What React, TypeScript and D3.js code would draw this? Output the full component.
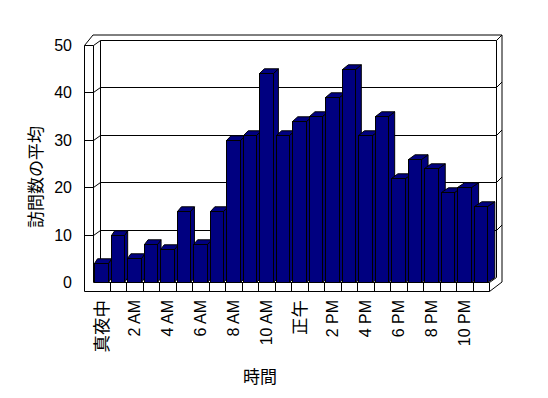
import React from "react";
import * as d3 from "d3";

const categories = [
  "真夜中", "1 AM", "2 AM", "3 AM", "4 AM", "5 AM", "6 AM", "7 AM", "8 AM", "9 AM", "10 AM", "11 AM",
  "正午", "1 PM", "2 PM", "3 PM", "4 PM", "5 PM", "6 PM", "7 PM", "8 PM", "9 PM", "10 PM", "11 PM",
];
const visits = [4, 10, 5, 8, 7, 15, 8, 15, 30, 31, 44, 31, 34, 35, 39, 45, 31, 35, 22, 26, 24, 19, 20, 16];
const yTicks = [0, 10, 20, 30, 40, 50];
const yTitle = "訪問数の平均";
const xTitle = "時間";

const W = 548;
const H = 398;
const X0 = 93.5; // inner front-left of plot
const X1 = 489.5; // front-right of plot
const WALL_L = 84.5; // outer left of wall front face
const FLOOR_T = 282.5;
const FLOOR_B = 291.5;
const DX = 7; // depth offset inner
const DY = 5;
const TX = 5.5; // wall thickness offsets
const TY = 5.5;
const FONT = "'Liberation Sans', 'Noto Sans CJK JP', sans-serif";
const NAVY = "#000080";

const r = (v: number) => Math.round(v - 0.5) + 0.5;
const isCJK = (s: string) => /[\u3000-\u9fff]/.test(s);

export default function App() {
  const x = d3.scaleBand<string>().domain(categories).range([X0, X1]).padding(0);
  const y = d3.scaleLinear().domain([0, 50]).range([FLOOR_T, 45.5]);
  const bw = x.bandwidth();
  const yTop = y(50);

  const pts = (a: [number, number][]) => a.map((p) => `${p[0]},${p[1]}`).join(" ");

  const outer: [number, number][] = [
    [WALL_L, FLOOR_B],
    [WALL_L, yTop],
    [93, yTop - DY - TY],
    [X1 + DX + TX, yTop - DY - TY],
    [X1 + DX + TX, FLOOR_B - DY - TY + 1],
    [X1, FLOOR_B],
  ];

  const lineProps = { stroke: "#000", strokeWidth: 1, fill: "none" };

  return (
    <svg
      width={W}
      height={H}
      style={{ position: "absolute", left: 0, top: 0, background: "#fff" }}
      fontFamily={FONT}
    >
      <rect x={0} y={0} width={W} height={H} fill="#fff" />
      {/* outer silhouette */}
      <polygon points={pts(outer)} fill="#fff" stroke="#000" strokeWidth={1} />
      {/* back wall inner edges */}
      <line x1={X0} y1={yTop} x2={X0 + DX} y2={yTop - DY} {...lineProps} />
      <line x1={X0 + DX} y1={yTop - DY} x2={X1 + DX} y2={yTop - DY} {...lineProps} />
      <line x1={X0 + DX} y1={yTop - DY} x2={X0 + DX} y2={FLOOR_T - DY} {...lineProps} />
      <line x1={X1 + DX} y1={yTop - DY} x2={X1 + DX} y2={FLOOR_T - DY} {...lineProps} />
      <line x1={X1 + DX} y1={yTop - DY} x2={X1 + DX + TX} y2={yTop - DY - TY} {...lineProps} />
      <line x1={WALL_L} y1={yTop} x2={X0} y2={yTop} {...lineProps} />
      {/* gridlines */}
      {yTicks
        .filter((t) => t > 0 && t < 50)
        .map((t) => {
          const yf = r(y(t));
          return (
            <g key={`g${t}`}>
              <line x1={WALL_L} y1={yf} x2={X0} y2={yf} {...lineProps} />
              <line x1={X0} y1={yf} x2={X0 + DX} y2={yf - DY} {...lineProps} />
              <line x1={X0 + DX} y1={yf - DY} x2={X1 + DX} y2={yf - DY} {...lineProps} />
              <line x1={X1 + DX} y1={yf - DY} x2={X1 + DX + TX} y2={yf - DY - TY} {...lineProps} />
            </g>
          );
        })}
      {/* left wall front face inner edge */}
      <line x1={X0} y1={yTop} x2={X0} y2={FLOOR_T} {...lineProps} />
      {/* floor */}
      <polygon
        points={pts([
          [X0, FLOOR_T],
          [X1, FLOOR_T],
          [X1 + DX, FLOOR_T - DY],
          [X0 + DX, FLOOR_T - DY],
        ])}
        fill="#fff"
        stroke="none"
      />
      <line x1={X0} y1={FLOOR_T} x2={X1} y2={FLOOR_T} {...lineProps} />
      <line x1={X1} y1={FLOOR_T} x2={X1} y2={FLOOR_B} {...lineProps} />
      <line x1={X1} y1={FLOOR_T} x2={X1 + DX} y2={FLOOR_T - DY} {...lineProps} />
      {categories.slice(1).map((c) => {
        const xb = r(x(c)!);
        return <line key={`f${c}`} x1={xb} y1={FLOOR_T} x2={xb} y2={FLOOR_B} {...lineProps} />;
      })}
      {/* bars */}
      {categories.map((c, i) => {
        const v = visits[i];
        const xl = r(x(c)! + bw * 0.09);
        const xr = r(x(c)! + bw * 0.09 + bw * 0.81);
        const yt = r(y(v));
        const yb = FLOOR_T;
        const sdx = 3 + (4.3 * i) / (categories.length - 1);
        const sdy = 4.7;
        return (
          <g key={`b${c}`} fill={NAVY} stroke="#000" strokeWidth={1} strokeLinejoin="miter">
            <polygon
              points={pts([
                [xr, yt],
                [xr + sdx, yt - sdy],
                [xr + sdx, yb - sdy],
                [xr, yb],
              ])}
            />
            <polygon
              points={pts([
                [xl, yt],
                [xl + sdx, yt - sdy],
                [xr + sdx, yt - sdy],
                [xr, yt],
              ])}
            />
            <rect x={xl} y={yt} width={xr - xl} height={yb - yt} />
          </g>
        );
      })}
      {/* y tick labels */}
      {yTicks.map((t) => (
        <text
          key={`t${t}`}
          x={72}
          y={y(t)}
          textAnchor="end"
          dominantBaseline="central"
          fontSize={16}
          fill="#000"
        >
          {t}
        </text>
      ))}
      {/* x labels */}
      {categories.map((c, i) =>
        i % 2 === 0 ? (
          <text
            key={`x${c}`}
            transform={`translate(${x(c)! + bw / 2},300) rotate(-90)`}
            textAnchor="end"
            dominantBaseline="central"
            fontSize={isCJK(c) ? 17.5 : 16}
            fill="#000"
          >
            {c}
          </text>
        ) : null
      )}
      <text
        transform="translate(36,177) rotate(-90)"
        textAnchor="middle"
        dominantBaseline="central"
        fontSize={17}
        fill="#000"
      >
        {yTitle}
      </text>
      <text x={260} y={377} textAnchor="middle" dominantBaseline="central" fontSize={17} fill="#000">
        {xTitle}
      </text>
    </svg>
  );
}
